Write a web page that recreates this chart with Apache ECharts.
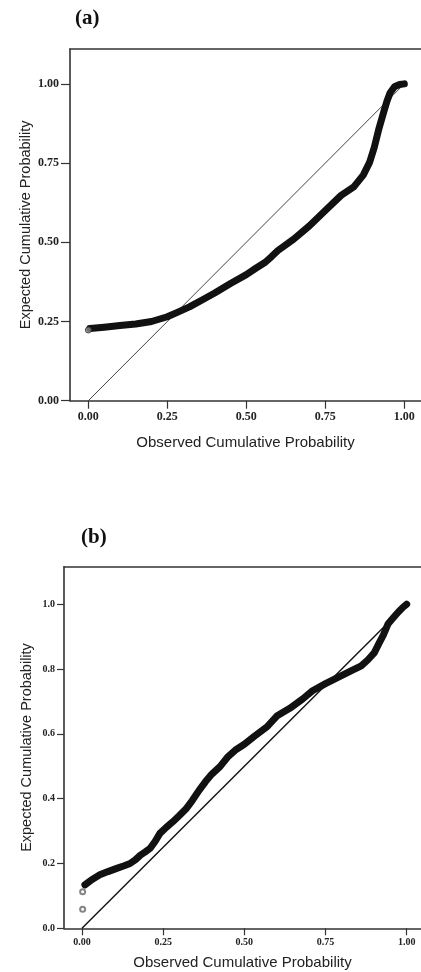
<!DOCTYPE html>
<html>
<head>
<meta charset="utf-8">
<script src="https://cdn.jsdelivr.net/npm/echarts@6/dist/echarts.min.js"></script>
<style>
html,body{margin:0;padding:0;background:#fff;}
#c{width:421px;height:972px;}
</style>
</head>
<body>
<div id="c"></div>
<script>
// ---- Panel (a) data ----
const aTicks = [0, 0.25, 0.5, 0.75, 1.0];
const aFirstPoint = [[0.0, 0.223]];
const aObsX = [0.005,0.05,0.10,0.15,0.20,0.25,0.28,0.32,0.36,0.40,0.45,0.50,0.53,0.56,0.58,0.60,0.65,0.70,0.75,0.80,0.84,0.87,0.89,0.905,0.92,0.935,0.945,0.955,0.97,0.985,1.0];
const aExpY = [0.228,0.232,0.237,0.242,0.250,0.265,0.278,0.296,0.318,0.340,0.370,0.398,0.418,0.437,0.455,0.474,0.510,0.552,0.600,0.648,0.675,0.712,0.752,0.800,0.860,0.912,0.945,0.972,0.992,0.998,1.000];

// ---- Panel (b) data ----
const bXTicks = [0, 0.25, 0.5, 0.75, 1.0];
const bYTicks = [0, 0.2, 0.4, 0.6, 0.8, 1.0];
const bOutliers = [[0.002, 0.059], [0.002, 0.113]];
const bObsX = [0.009,0.03,0.055,0.08,0.107,0.13,0.148,0.165,0.18,0.195,0.21,0.225,0.24,0.26,0.28,0.30,0.32,0.34,0.36,0.38,0.40,0.425,0.45,0.475,0.50,0.53,0.57,0.60,0.64,0.68,0.71,0.75,0.79,0.83,0.86,0.88,0.90,0.915,0.928,0.943,0.96,0.975,0.99,1.0];
const bExpY = [0.134,0.150,0.165,0.175,0.185,0.193,0.200,0.212,0.226,0.236,0.247,0.268,0.293,0.312,0.329,0.348,0.368,0.395,0.425,0.452,0.476,0.499,0.530,0.552,0.568,0.592,0.622,0.655,0.679,0.708,0.733,0.755,0.775,0.795,0.810,0.828,0.850,0.880,0.905,0.940,0.960,0.977,0.992,1.000];

// reference diagonal (y = x)
const diag = [[0, 0], [1, 1]];

const zip = (xs, ys) => xs.map((x, i) => [x, ys[i]]);

const serif = '"Liberation Serif", "Times New Roman", serif';
const sans = '"Liberation Sans", Arial, sans-serif';
const axisCol = '#333';

function xAxisCfg(grid, min, max, ticks, fs, tickLen, gap, nameGap, digits) {
  return {
    type: 'value', gridIndex: grid, min: min, max: max, position: 'bottom',
    axisLine: {show: true, onZero: false, lineStyle: {color: axisCol, width: 1.6}},
    axisTick: {show: true, length: tickLen, customValues: ticks, lineStyle: {color: axisCol, width: 1.2}},
    axisLabel: {show: true, customValues: ticks, margin: gap, fontFamily: serif, fontWeight: 'bold', fontSize: fs, color: '#222',
      formatter: v => v.toFixed(digits)},
    splitLine: {show: false},
    name: 'Observed Cumulative Probability', nameLocation: 'middle', nameGap: nameGap, nameMoveOverlap: false,
    nameTextStyle: {fontFamily: sans, fontSize: 15, color: '#222'}
  };
}
function topAxisCfg(grid, min, max) {
  return {
    type: 'value', gridIndex: grid, min: min, max: max, position: 'top',
    axisLine: {show: true, onZero: false, lineStyle: {color: axisCol, width: 1.6}},
    axisTick: {show: false}, axisLabel: {show: false}, splitLine: {show: false}
  };
}
function yAxisCfg(grid, min, max, ticks, fs, tickLen, gap, nameGap, digits) {
  return {
    type: 'value', gridIndex: grid, min: min, max: max,
    axisLine: {show: true, onZero: false, lineStyle: {color: axisCol, width: 1.6}},
    axisTick: {show: true, length: tickLen, customValues: ticks, lineStyle: {color: axisCol, width: 1.2}},
    axisLabel: {show: true, customValues: ticks, margin: gap, fontFamily: serif, fontWeight: 'bold', fontSize: fs, color: '#222',
      formatter: v => v.toFixed(digits)},
    splitLine: {show: false},
    name: 'Expected Cumulative Probability', nameLocation: 'middle', nameGap: nameGap, nameRotate: 90, nameMoveOverlap: false,
    nameTextStyle: {fontFamily: sans, fontSize: 14.5, color: '#222'}
  };
}

const aXMax = -0.058 + 351 / 316;
const bXMax = -0.0554 + 357 / 324.7;

const chart = echarts.init(document.getElementById('c'), null, {renderer: 'canvas'});
chart.setOption({
  animation: false,
  backgroundColor: '#fff',
  graphic: [
    {type: 'text', left: 75, top: 8, style: {text: '(a)', fontFamily: serif, fontWeight: 'bold', fontSize: 21, fill: '#111'}},
    {type: 'text', left: 81, top: 527, style: {text: '(b)', fontFamily: serif, fontWeight: 'bold', fontSize: 21, fill: '#111'}}
  ],
  grid: [
    {left: 70, top: 49, width: 351, height: 351.7, show: false},
    {left: 64, top: 566.7, width: 357, height: 361.6, show: false}
  ],
  xAxis: [
    xAxisCfg(0, -0.058, aXMax, aTicks, 12, 8, 10, 35, 2),
    xAxisCfg(1, -0.0554, bXMax, bXTicks, 10, 7, 9, 27, 2),
    topAxisCfg(0, -0.058, aXMax),
    topAxisCfg(1, -0.0554, bXMax)
  ],
  yAxis: [
    yAxisCfg(0, 0, 1.110, aTicks, 12, 9, 11, 37, 2),
    yAxisCfg(1, 0, 1.116, bYTicks, 10, 7, 9, 30, 1)
  ],
  series: [
    {type: 'line', xAxisIndex: 0, yAxisIndex: 0, data: diag, symbol: 'none', silent: true,
      lineStyle: {color: '#444', width: 1}, z: 2},
    {type: 'line', xAxisIndex: 0, yAxisIndex: 0, data: zip(aObsX, aExpY), symbol: 'none', smooth: false,
      lineStyle: {color: '#111', width: 7, cap: 'round', join: 'round'}, z: 3},
    {type: 'scatter', xAxisIndex: 0, yAxisIndex: 0, data: aFirstPoint, symbol: 'circle', symbolSize: 6,
      itemStyle: {color: '#888', borderColor: '#333', borderWidth: 1}, z: 4},
    {type: 'line', xAxisIndex: 1, yAxisIndex: 1, data: diag, symbol: 'none', silent: true,
      lineStyle: {color: '#111', width: 1.4}, z: 2},
    {type: 'line', xAxisIndex: 1, yAxisIndex: 1, data: zip(bObsX, bExpY), symbol: 'none', smooth: false,
      lineStyle: {color: '#111', width: 7, cap: 'round', join: 'round'}, z: 3},
    {type: 'scatter', xAxisIndex: 1, yAxisIndex: 1, data: bOutliers, symbol: 'emptyCircle', symbolSize: 5,
      itemStyle: {color: '#666', borderColor: '#666', borderWidth: 1}, z: 4}
  ]
});
</script>
</body>
</html>
